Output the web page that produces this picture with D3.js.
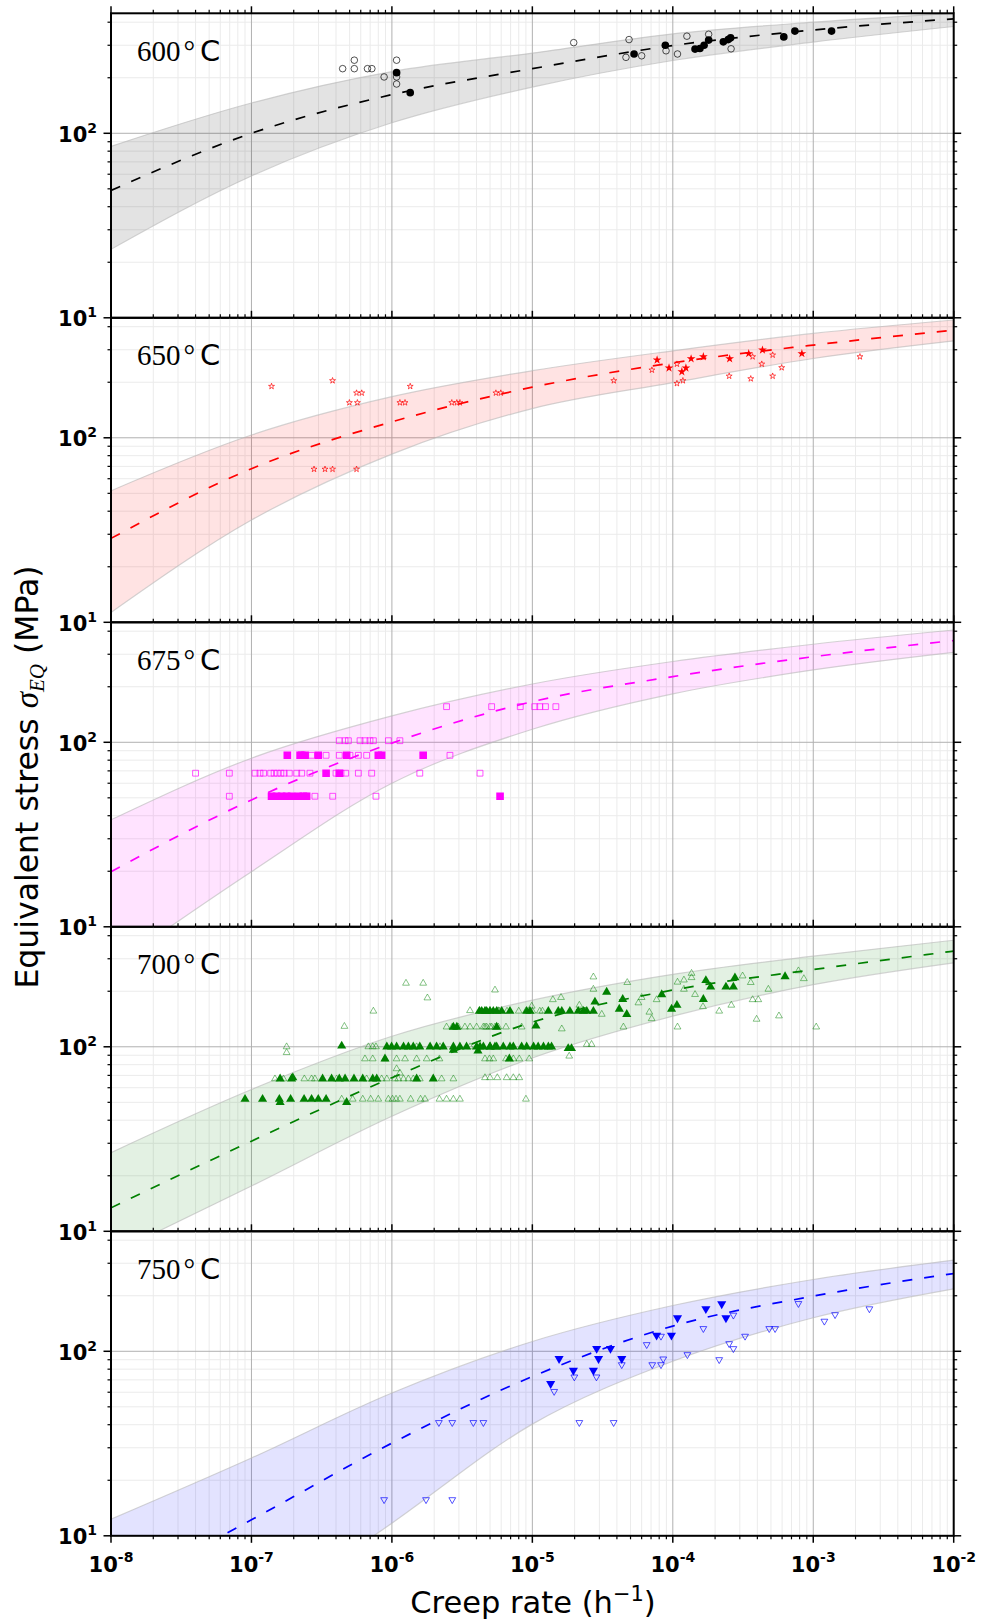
<!DOCTYPE html>
<html>
<head>
<meta charset="utf-8">
<script src="https://cdn.jsdelivr.net/npm/d3@7"></script>
<style>
  body { margin: 0; background: white; }
</style>
</head>
<body>
<div id="vizContainer"></div>
<script>
let w = 982;
let h = 1623;

// one panel per temperature
let temps = [600, 650, 675, 700, 750];
let colors = ["black", "red", "magenta", "green", "blue"];

let fitRates = [1e-8, 1e-7, 1e-6, 1e-5, 1e-4, 1e-3, 1e-2];
let fitMean = [
  [49, 100, 162, 224, 299, 363, 417],
  [28.5, 68, 122, 188, 255, 318, 383],
  [19.9, 48.7, 99, 166, 227, 291, 356],
  [13.4, 30.8, 68, 136, 203, 262, 330],
  [4.8, 12.2, 31.8, 73, 137, 199, 264]
];
let fitUpper = [
  [85, 146, 216, 272, 346, 400, 447],
  [51.6, 103.5, 167, 231, 296, 368, 435],
  [38, 82, 139, 207, 274, 340, 406],
  [26.7, 58.7, 114, 179, 247, 310, 378],
  [12.3, 26.4, 59.4, 113, 177, 245, 312]
];
let fitLower = [
  [23.5, 58.7, 114, 178, 248, 312, 379],
  [11.3, 35.8, 81.6, 144, 199, 269, 335],
  [6, 19.9, 60, 117.6, 183, 246.6, 307],
  [7.5, 17.6, 42, 87, 146.5, 217, 285],
  [1.0, 3.5, 11.7, 40.3, 88.3, 152, 218]
];

// measured points [creep rate, stress]
let open600 = [[4.46e-7,224],[5.4e-7,249],[5.4e-7,224],[6.7e-7,224],[7.2e-7,224],[8.8e-7,202],[1.08e-6,249],[1.08e-6,202],[1.08e-6,185],
  [1.97e-5,310],[4.88e-5,322],[4.64e-5,258],[6.0e-5,263],[8.95e-5,280],[1.08e-4,269],[1.26e-4,336],[1.8e-4,344],[2.6e-4,287]];
let filled600 = [[1.08e-6,213],[1.35e-6,166],[5.3e-5,269],[8.85e-5,300],[1.44e-4,286],[1.56e-4,288],[1.67e-4,300],[1.8e-4,320],
  [2.29e-4,313],[2.48e-4,322],[2.58e-4,329],[6.17e-4,333],[7.4e-4,358],[1.35e-3,358]];

let open650 = [[1.39e-7,190],[3.78e-7,204],[4.98e-7,155],[5.68e-7,155],[5.6e-7,175],[6.1e-7,175],[1.14e-6,155],[1.24e-6,155],[1.35e-6,190],
  [2.67e-6,155],[2.9e-6,155],[3.05e-6,155],[5.5e-6,175],[5.96e-6,175],[2.79e-7,67.6],[3.34e-7,67.6],[3.78e-7,67.6],[5.6e-7,67.6],
  [3.8e-5,204],[7.1e-5,233],[1.07e-4,251],[1.07e-4,197],[1.18e-4,204],[2.52e-4,216],[3.59e-4,209],[3.7e-4,275],[4.3e-4,251],
  [5.14e-4,281],[5.14e-4,216],[5.96e-4,240],[2.15e-3,275]];
let filled650 = [[7.73e-5,264],[9.4e-5,239],[1.16e-4,228],[1.24e-4,239],[1.35e-4,268],[1.65e-4,275],[2.54e-4,268],[3.47e-4,286],
  [4.35e-4,299],[8.3e-4,286]];

let open675 = [[4.0e-8,68],[6.96e-8,68],[1.06e-7,68],[1.15e-7,68],[1.22e-7,68],[1.37e-7,68],[1.45e-7,68],[1.53e-7,68],[1.62e-7,68],
  [1.71e-7,68],[1.86e-7,68],[2.1e-7,68],[2.28e-7,68],[2.61e-7,68],[4.0e-7,68],[4.34e-7,68],[4.69e-7,68],[5.77e-7,68],[7.18e-7,68],
  [1.58e-6,68],[4.24e-6,68],
  [2.68e-7,85],[3.4e-7,85],[4.22e-7,85],[5.03e-7,85],[5.77e-7,85],[6.61e-7,85],[2.59e-6,85],
  [4.22e-7,102],[4.64e-7,102],[4.9e-7,102],[5.93e-7,102],[6.43e-7,102],[6.98e-7,102],[7.38e-7,102],[9.44e-7,102],[1.14e-6,102],
  [2.45e-6,156],[5.13e-6,156],[8.2e-6,156],[1.04e-5,156],[1.13e-5,156],[1.24e-5,156],[1.47e-5,156],
  [6.96e-8,51],[2.47e-7,51],[2.83e-7,51],[3.79e-7,51],[7.7e-7,51]];
let filled675 = [[1.8e-7,85],[2.22e-7,85],[2.28e-7,85],[2.41e-7,85],[2.99e-7,85],[4.76e-7,85],[8.0e-7,85],[8.45e-7,85],[1.67e-6,85],
  [3.4e-7,68],[4.22e-7,68],
  [1.39e-7,51],[1.51e-7,51],[1.64e-7,51],[1.78e-7,51],[1.93e-7,51],[2.16e-7,51],[2.34e-7,51],[2.47e-7,51],[5.89e-6,51]];

let open700 = [[4.39e-7,52],[5.26e-7,52],[6.2e-7,52],[7.06e-7,52],[8.0e-7,52],[9.44e-7,52],[1.01e-6,52],[1.07e-6,52],[1.14e-6,52],
  [1.36e-6,52],[1.6e-6,52],[1.72e-6,52],[2.18e-6,52],[2.45e-6,52],[2.74e-6,52],[3.05e-6,52],[9.0e-6,52],
  [1.47e-7,67],[1.69e-7,67],[2.38e-7,67],[2.68e-7,67],[2.83e-7,67],[4.04e-7,67],[6.61e-7,67],[8.45e-7,67],[9.2e-7,67],[1.05e-6,67],
  [1.11e-6,67],[1.21e-6,67],[1.31e-6,67],[1.42e-6,67],[1.58e-6,67],[2.26e-6,67],[2.74e-6,67],[4.6e-6,68],[5.0e-6,68],[5.63e-6,68],
  [6.56e-6,68],[7.32e-6,68],[8.07e-6,68],
  [6.43e-7,86],[7.3e-7,86],[8.93e-7,86],[1.08e-6,86],[1.24e-6,86],[1.5e-6,86],[1.77e-6,86],[2.18e-6,86],[1.08e-6,76],[1.14e-6,72],
  [4.6e-6,86],[4.95e-6,86],[5.27e-6,86],[6.49e-6,86],[7.32e-6,86],[8.07e-6,86],[9.5e-6,86],[1.83e-5,89],
  [1.78e-7,100],[1.78e-7,93],[6.8e-7,100],[7.3e-7,100],[7.7e-7,100],[1.5e-6,100],[2.2e-6,100],[3.6e-6,100],[2.44e-5,103],[2.64e-5,103],
  [2.45e-6,128],[2.69e-6,128],[2.97e-6,128],[3.31e-6,128],[3.6e-6,128],[4.01e-6,128],[4.6e-6,128],[4.99e-6,128],[5.72e-6,128],
  [4.48e-6,128],[4.73e-6,128],[5.13e-6,128],[5.42e-6,128],[6.49e-6,128],[8.39e-6,128],[1.62e-5,125],[4.45e-5,128],
  [3.6e-6,157],[4.2e-6,157],[4.6e-6,157],[5.0e-6,157],[5.7e-6,157],[5.8e-6,156],[6.6e-6,156],[8.0e-6,156],[9.0e-6,156],[1.0e-5,156],
  [1.13e-5,156],[1.18e-5,156],
  [4.59e-7,129],[7.38e-7,156],[1.26e-6,221],[1.67e-6,221],[1.79e-6,184],[5.42e-6,203],[9.9e-6,166],[1.4e-5,180],[1.6e-5,185],
  [2.16e-5,168],[2.72e-5,239],[2.72e-5,205],[3.12e-5,150],[4.74e-5,223],[5.69e-5,173],[6.0e-5,185],[6.81e-5,154],[7.07e-5,142],
  [7.67e-5,180],[1.08e-4,128],[1.08e-4,224],[1.2e-4,230],[1.2e-4,205],[1.36e-4,250],[1.36e-4,237],[1.44e-4,192],[1.64e-4,165],
  [2.14e-4,156],[2.61e-4,168],[3.14e-4,242],[3.59e-4,223],[3.7e-4,180],[4.06e-4,180],[3.95e-4,141],[4.79e-4,205],[5.7e-4,147],
  [7.84e-4,258],[8.57e-4,234],[1.05e-3,128]];
let filled700 = [[9.0e-8,52],[1.2e-7,52],[1.58e-7,52],[1.6e-7,50],[1.9e-7,52],[2.37e-7,52],[2.68e-7,52],[2.99e-7,52],[3.4e-7,52],[4.76e-7,50],
  [1.6e-7,67],[1.93e-7,67],[1.97e-7,68],[3.21e-7,67],[3.72e-7,67],[4.22e-7,67],[4.64e-7,67],[5.37e-7,67],[6.2e-7,67],[7.3e-7,67],
  [7.8e-7,67],[1.5e-6,67],[1.97e-6,67],
  [8.93e-7,86],[6.86e-6,86],
  [4.39e-7,101],[9.2e-7,100],[9.95e-7,100],[1.08e-6,100],[1.21e-6,100],[1.31e-6,100],[1.42e-6,100],[1.58e-6,100],[1.87e-6,100],
  [2.08e-6,100],[2.32e-6,100],[2.74e-6,100],[3.05e-6,100],[3.4e-6,100],[4.01e-6,100],[4.24e-6,100],[4.99e-6,100],[5.57e-6,100],
  [4.48e-6,100],[5.0e-6,100],[5.42e-6,100],[6.21e-6,100],[6.93e-6,100],[7.32e-6,100],[8.39e-6,100],[9.11e-6,100],[1.02e-5,100],
  [1.1e-5,100],[1.2e-5,100],[1.3e-5,100],[1.37e-5,100],[1.8e-5,98],[1.9e-5,98],[2.74e-6,96],[4.1e-6,95],
  [2.74e-6,128],[2.9e-6,128],[5.57e-6,128],[1.06e-5,130],
  [4.2e-6,156],[4.6e-6,156],[4.99e-6,156],[5.57e-6,156],[4.36e-6,156],[4.73e-6,156],[5.27e-6,156],[6.05e-6,156],[6.93e-6,156],
  [9.11e-6,156],[9.62e-6,156],[1.3e-5,156],[1.53e-5,156],[1.62e-5,156],[1.85e-5,156],[2.12e-5,156],[2.31e-5,156],[2.44e-5,156],
  [2.72e-5,156],
  [2.79e-5,175],[3.38e-5,198],[4.16e-5,160],[4.4e-5,181],[4.7e-5,150],[8.34e-5,192],[9.8e-5,160],[1.07e-4,168],[1.65e-4,181],
  [1.72e-4,229],[1.86e-4,211],[2.39e-4,211],[2.7e-4,211],[2.77e-4,237],[6.3e-4,240]];

let open750 = [[8.8e-7,15.7],[1.75e-6,15.7],[2.69e-6,15.7],[2.16e-6,41.1],[2.69e-6,41.1],[3.8e-6,41.1],[4.48e-6,41.1],[2.16e-5,41.1],
  [3.79e-5,41.1],[1.43e-5,60.6],[1.99e-5,72.6],[2.86e-5,72.6],[4.33e-5,84.6],[6.52e-5,108.7],[7.14e-5,84.6],[8.24e-5,84.6],
  [8.24e-5,120.7],[8.55e-5,90.9],[1.27e-4,95.9],[1.65e-4,132.8],[2.14e-4,90.1],[2.52e-4,110],[2.7e-4,103.4],[2.7e-4,157],
  [3.27e-4,120.7],[4.86e-4,132.8],[5.35e-4,132.8],[7.84e-4,181.5],[1.2e-3,145.6],[1.43e-3,158],[2.51e-3,170]];
let filled750 = [[1.35e-5,66.7],[1.55e-5,91.2],[1.96e-5,78.8],[2.72e-5,78.8],[2.87e-5,103.4],[2.96e-5,91.2],[3.6e-5,103.4],
  [4.33e-5,91.2],[7.67e-5,122],[9.78e-5,122],[1.08e-4,151.6],[1.72e-4,170],[2.23e-4,180.6],[2.39e-4,151.6]];

let openPts = [open600, open650, open675, open700, open750];
let filledPts = [filled600, filled650, filled675, filled700, filled750];

// tick labels
let rateExponents = ["-8", "-7", "-6", "-5", "-4", "-3", "-2"];
let rateMajors = [1e-8, 1e-7, 1e-6, 1e-5, 1e-4, 1e-3, 1e-2];
let stressMajors = [10, 100];
let stressExponents = ["1", "2"];

let plotLeft = 111;
let plotRight = 953.7;
let panelTop = 13.3;
let panelH = 304.5;

let viz = d3.select("#vizContainer")
  .append("svg")
  .attr("width", w)
  .attr("height", h)
  .style("background-color", "white")
  ;

let xScale = d3.scaleLog().domain([1e-8, 1e-2]).range([plotLeft, plotRight]);
let yScale = d3.scaleLog().domain([10, 447]).range([panelH, 0]);

let xMinor = xScale.ticks().filter(v => rateMajors.indexOf(v) < 0 && Math.abs(Math.log10(v) - Math.round(Math.log10(v))) > 1e-6);
let yMinor = yScale.ticks().filter(v => v != 10 && v != 100);

let shapes = [d3.symbolCircle, d3.symbolStar, d3.symbolSquare, d3.symbolTriangle, d3.symbolTriangle];
let openSizes = [34, 11, 34, 20, 20];
let filledSizes = [46, 24, 58, 36, 36];

let lineGen = d3.line()
  .x(d => xScale(d[0]))
  .y(d => yScale(d[1]))
  .curve(d3.curveMonotoneX)
  ;
let areaGen = d3.area()
  .x(d => xScale(d[0]))
  .y0(d => yScale(d[1]))
  .y1(d => yScale(d[2]))
  .curve(d3.curveMonotoneX)
  ;

let defs = viz.append("defs");

temps.forEach((temp, i) => {
  let color = colors[i];
  let panel = viz.append("g")
    .attr("class", "panel")
    .attr("transform", "translate(0," + (panelTop + i * panelH) + ")")
    ;

  defs.append("clipPath").attr("id", "clip" + i)
    .append("rect")
    .attr("x", plotLeft)
    .attr("y", 0)
    .attr("width", plotRight - plotLeft)
    .attr("height", panelH)
    ;

  // grid
  let grid = panel.append("g").attr("class", "grid");
  grid.selectAll(".xminor").data(xMinor).enter().append("line")
    .attr("x1", d => xScale(d)).attr("x2", d => xScale(d))
    .attr("y1", 0).attr("y2", panelH)
    .attr("stroke", "#ebebeb").attr("stroke-width", 1)
    ;
  grid.selectAll(".yminor").data(yMinor).enter().append("line")
    .attr("x1", plotLeft).attr("x2", plotRight)
    .attr("y1", d => yScale(d)).attr("y2", d => yScale(d))
    .attr("stroke", "#ebebeb").attr("stroke-width", 1)
    ;
  grid.selectAll(".xmajor").data(rateMajors).enter().append("line")
    .attr("x1", d => xScale(d)).attr("x2", d => xScale(d))
    .attr("y1", 0).attr("y2", panelH)
    .attr("stroke", "#b0b0b0").attr("stroke-width", 1)
    ;
  grid.append("line")
    .attr("x1", plotLeft).attr("x2", plotRight)
    .attr("y1", yScale(100)).attr("y2", yScale(100))
    .attr("stroke", "#b0b0b0").attr("stroke-width", 1)
    ;

  let band = fitRates.map((r, k) => [r, fitLower[i][k], fitUpper[i][k]]);
  let mean = fitRates.map((r, k) => [r, fitMean[i][k]]);
  let lowerEdge = fitRates.map((r, k) => [r, fitLower[i][k]]);
  let upperEdge = fitRates.map((r, k) => [r, fitUpper[i][k]]);

  let plot = panel.append("g").attr("clip-path", "url(#clip" + i + ")");

  plot.append("path")
    .attr("d", areaGen(band))
    .attr("fill", color)
    .attr("fill-opacity", 0.11)
    ;
  [lowerEdge, upperEdge].forEach(edge => {
    plot.append("path")
      .attr("d", lineGen(edge))
      .attr("fill", "none")
      .attr("stroke", "#b8b8b8")
      .attr("stroke-opacity", 0.6)
      .attr("stroke-width", 1.2)
      ;
  });
  plot.append("path")
    .attr("d", lineGen(mean))
    .attr("fill", "none")
    .attr("stroke", color)
    .attr("stroke-width", 1.7)
    .attr("stroke-dasharray", "10,12")
    ;

  let flip = i == 4 ? " rotate(180)" : "";
  plot.selectAll(".open").data(openPts[i]).enter().append("path")
    .attr("class", "open")
    .attr("d", d3.symbol().type(shapes[i]).size(openSizes[i]))
    .attr("transform", d => "translate(" + xScale(d[0]) + "," + yScale(d[1]) + ")" + flip)
    .attr("fill", "none")
    .attr("stroke", color)
    .attr("stroke-width", 0.8)
    .attr("stroke-opacity", i == 3 ? 0.6 : 0.85)
    ;
  plot.selectAll(".filled").data(filledPts[i]).enter().append("path")
    .attr("class", "filled")
    .attr("d", d3.symbol().type(shapes[i]).size(filledSizes[i]))
    .attr("transform", d => "translate(" + xScale(d[0]) + "," + yScale(d[1]) + ")" + flip)
    .attr("fill", color)
    ;

  // spines and ticks
  let axes = panel.append("g").attr("class", "axes");
  axes.append("rect")
    .attr("x", plotLeft).attr("y", 0)
    .attr("width", plotRight - plotLeft).attr("height", panelH)
    .attr("fill", "none").attr("stroke", "black").attr("stroke-width", 2)
    ;
  let tickDirs = i == 4 ? [[0, -1], [panelH, 1]] : [[0, -1]];
  tickDirs.forEach(td => {
    axes.selectAll(null).data(xMinor).enter().append("line")
      .attr("x1", d => xScale(d)).attr("x2", d => xScale(d))
      .attr("y1", td[0]).attr("y2", td[0] + td[1] * 3.5)
      .attr("stroke", "black").attr("stroke-width", 1.2)
      ;
    axes.selectAll(null).data(rateMajors).enter().append("line")
      .attr("x1", d => xScale(d)).attr("x2", d => xScale(d))
      .attr("y1", td[0]).attr("y2", td[0] + td[1] * 7)
      .attr("stroke", "black").attr("stroke-width", 1.5)
      ;
  });
  [[plotLeft, -1], [plotRight, 1]].forEach(td => {
    axes.selectAll(null).data(yMinor).enter().append("line")
      .attr("x1", td[0]).attr("x2", td[0] + td[1] * 3.5)
      .attr("y1", d => yScale(d)).attr("y2", d => yScale(d))
      .attr("stroke", "black").attr("stroke-width", 1.2)
      ;
    axes.selectAll(null).data(stressMajors).enter().append("line")
      .attr("x1", td[0]).attr("x2", td[0] + td[1] * 7.5)
      .attr("y1", d => yScale(d)).attr("y2", d => yScale(d))
      .attr("stroke", "black").attr("stroke-width", 1.5)
      ;
  });

  // y tick labels
  let ylabels = axes.selectAll(null).data(stressMajors).enter().append("text")
    .attr("x", 97)
    .attr("y", d => yScale(d) + 8.5)
    .attr("text-anchor", "end")
    .attr("font-family", "DejaVu Sans")
    .attr("font-weight", "bold")
    .attr("font-size", 21)
    ;
  ylabels.append("tspan").text("10");
  ylabels.append("tspan")
    .attr("dy", -9)
    .attr("font-size", 14)
    .text((d, k) => stressExponents[k])
    ;

  // temperature label
  let lab = panel.append("text")
    .attr("x", 137)
    .attr("y", 47.5)
    .attr("font-size", 29)
    ;
  lab.append("tspan").attr("font-family", "Liberation Serif").text(temp);
  lab.append("tspan").attr("font-family", "Liberation Serif").attr("dx", 3).text("\u00b0");
  lab.append("tspan").attr("font-family", "DejaVu Sans").attr("dx", 5).text("C");
});

// x tick labels under the last panel
let xlabels = viz.append("g").selectAll("text").data(rateMajors).enter().append("text")
  .attr("x", d => xScale(d))
  .attr("y", panelTop + 5 * panelH + 36)
  .attr("text-anchor", "middle")
  .attr("font-family", "DejaVu Sans")
  .attr("font-weight", "bold")
  .attr("font-size", 21)
  ;
xlabels.append("tspan").text("10");
xlabels.append("tspan")
  .attr("dy", -10)
  .attr("font-size", 14)
  .text((d, k) => rateExponents[k])
  ;

// axis titles
let xTitle = viz.append("text")
  .attr("x", 533)
  .attr("y", 1613)
  .attr("text-anchor", "middle")
  .attr("font-family", "DejaVu Sans")
  .attr("font-size", 30.5)
  ;
xTitle.append("tspan").text("Creep rate (h");
xTitle.append("tspan").attr("dy", -12).attr("font-size", 21).text("\u22121");
xTitle.append("tspan").attr("dy", 12).text(")");

let yTitle = viz.append("text")
  .attr("transform", "translate(38,777) rotate(-90)")
  .attr("text-anchor", "middle")
  .attr("font-family", "DejaVu Sans")
  .attr("font-size", 31.5)
  ;
yTitle.append("tspan").text("Equivalent stress ");
yTitle.append("tspan").attr("font-family", "Liberation Serif").attr("font-style", "italic").attr("font-size", 33).text("\u03c3");
yTitle.append("tspan").attr("font-family", "Liberation Serif").attr("font-style", "italic").attr("font-size", 21).attr("dy", 6).text("EQ");
yTitle.append("tspan").attr("dy", -6).text(" (MPa)");
</script>
</body>
</html>
